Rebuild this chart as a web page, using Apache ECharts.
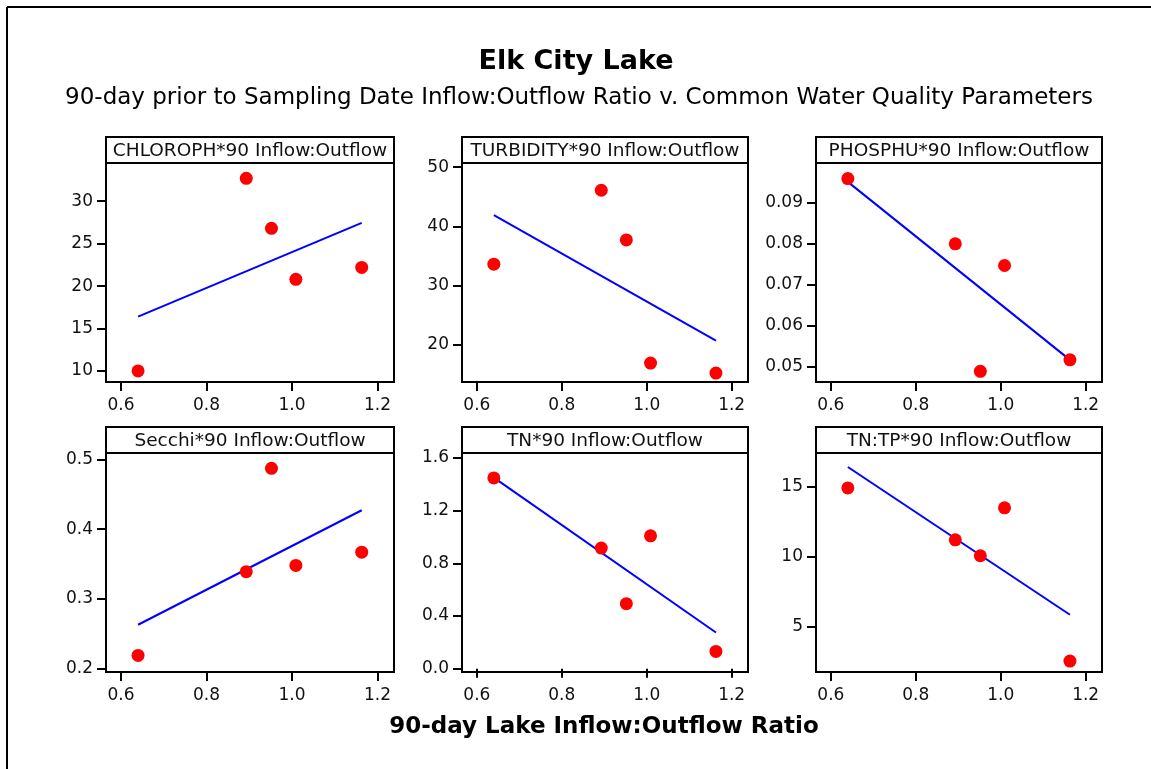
<!DOCTYPE html>
<html>
<head>
<meta charset="utf-8">
<script src="https://cdn.jsdelivr.net/npm/echarts@6/dist/echarts.min.js"></script>
<style>
html,body{margin:0;padding:0;background:#fff;}
#chart{width:1151px;height:769px;}
</style>
</head>
<body>
<div id="chart"></div>
<script>
// ---------- DATA ----------
const xValues = [0.64, 0.893, 0.952, 1.009, 1.163];
const xTicks = [0.6, 0.8, 1.0, 1.2];

const panelTitles = [
  'CHLOROPH*90 Inflow:Outflow',
  'TURBIDITY*90 Inflow:Outflow',
  'PHOSPHU*90 Inflow:Outflow',
  'Secchi*90 Inflow:Outflow',
  'TN*90 Inflow:Outflow',
  'TN:TP*90 Inflow:Outflow'
];

const chlorophyll = [10.0, 32.7, 26.8, 20.8, 22.2];
const turbidity   = [33.6, 46.1, 37.7, 16.9, 15.2];
const phosphorus  = [0.0959, 0.0800, 0.0489, 0.0747, 0.0517];
const secchi      = [0.219, 0.339, 0.487, 0.348, 0.367];
const tn          = [1.449, 0.916, 0.494, 1.009, 0.131];
const tntp        = [14.93, 11.21, 10.07, 13.50, 2.52];

// fitted line values at the smallest and largest ratio
const chlorophyllFit = [16.4, 27.45];
const turbidityFit   = [41.9, 20.7];
const phosphorusFit  = [0.0951, 0.0517];
const secchiFit      = [0.263, 0.427];
const tnFit          = [1.451, 0.275];
const tntpFit        = [16.43, 5.84];

const chlorophyllTicks = [10, 15, 20, 25, 30];
const turbidityTicks   = [20, 30, 40, 50];
const phosphorusTicks  = [0.05, 0.06, 0.07, 0.08, 0.09];
const secchiTicks      = [0.2, 0.3, 0.4, 0.5];
const tnTicks          = [0.0, 0.4, 0.8, 1.2, 1.6];
const tntpTicks        = [5, 10, 15];

// ---------- LAYOUT ----------
const panels = [
  {y: chlorophyll, fit: chlorophyllFit, ticks: chlorophyllTicks, min: 8.7, max: 34.5, dec: 0},
  {y: turbidity, fit: turbidityFit, ticks: turbidityTicks, min: 13.7, max: 50.7, dec: 0},
  {y: phosphorus, fit: phosphorusFit, ticks: phosphorusTicks, min: 0.0463, max: 0.0997, dec: 2},
  {y: secchi, fit: secchiFit, ticks: secchiTicks, min: 0.1953, max: 0.509, dec: 1},
  {y: tn, fit: tnFit, ticks: tnTicks, min: -0.025, max: 1.638, dec: 1},
  {y: tntp, fit: tntpFit, ticks: tntpTicks, min: 1.74, max: 17.43, dec: 0}
];
const colLeft = [106, 462, 816];
const colWidth = [288, 286, 286];
const rowTop = [163, 453];
const plotH = 219;
const headerH = 26;
const xMin = 0.565, xMax = 1.2385;

const tickFont = {fontFamily: 'DejaVu Sans', fontSize: 17, color: '#111'};

const grids = [], xAxes = [], yAxes = [], series = [], graphics = [];
const xLo = Math.min(...xValues), xHi = Math.max(...xValues);

panels.forEach((p, i) => {
  const c = i % 3, r = Math.floor(i / 3);
  grids.push({
    left: colLeft[c], top: rowTop[r], width: colWidth[c], height: plotH,
    show: true, borderColor: '#000', borderWidth: 2, backgroundColor: '#fff'
  });
  xAxes.push({
    type: 'value', gridIndex: i, min: xMin, max: xMax,
    axisLine: {show: false},
    axisTick: {show: true, inside: false, length: 9, lineStyle: {color: '#000', width: 2}, customValues: xTicks},
    axisLabel: Object.assign({margin: 15, customValues: xTicks, formatter: v => v.toFixed(1)}, tickFont),
    splitLine: {show: false}
  });
  yAxes.push({
    type: 'value', gridIndex: i, min: p.min, max: p.max,
    axisLine: {show: false},
    axisTick: {show: true, inside: false, length: 9, lineStyle: {color: '#000', width: 2}, customValues: p.ticks},
    axisLabel: Object.assign({margin: 13, customValues: p.ticks, formatter: v => v.toFixed(p.dec)}, tickFont),
    splitLine: {show: false}
  });
  series.push({
    type: 'line', xAxisIndex: i, yAxisIndex: i,
    data: [[xLo, p.fit[0]], [xHi, p.fit[1]]],
    symbol: 'none', lineStyle: {color: '#0000ff', width: 2}, z: 2, silent: true
  });
  series.push({
    type: 'scatter', xAxisIndex: i, yAxisIndex: i,
    data: xValues.map((x, k) => [x, p.y[k]]),
    symbol: 'circle', symbolSize: 13, itemStyle: {color: '#ff0000', opacity: 1}, z: 3
  });
  graphics.push({
    type: 'rect',
    shape: {x: colLeft[c], y: rowTop[r] - headerH, width: colWidth[c], height: headerH},
    style: {fill: '#fff', stroke: '#000', lineWidth: 2}
  });
  graphics.push({
    type: 'text',
    x: colLeft[c] + colWidth[c] / 2, y: rowTop[r] - headerH / 2 + 1,
    style: {text: panelTitles[i], fontFamily: 'DejaVu Sans', fontSize: 18.5, fill: '#111', align: 'center', verticalAlign: 'middle'}
  });
});

// outer frame (top and left edges)
graphics.push({type: 'line', shape: {x1: 7, y1: 7, x2: 1151, y2: 7}, style: {stroke: '#000', lineWidth: 2}});
graphics.push({type: 'line', shape: {x1: 7, y1: 7, x2: 7, y2: 769}, style: {stroke: '#000', lineWidth: 2}});

graphics.push({
  type: 'text', x: 576, y: 62,
  style: {text: 'Elk City Lake', fontFamily: 'DejaVu Sans', fontWeight: 'bold', fontSize: 27, fill: '#000', align: 'center', verticalAlign: 'middle'}
});
graphics.push({
  type: 'text', x: 579, y: 98,
  style: {text: '90-day prior to Sampling Date Inflow:Outflow Ratio v. Common Water Quality Parameters', fontFamily: 'DejaVu Sans', fontSize: 23, fill: '#000', align: 'center', verticalAlign: 'middle'}
});
graphics.push({
  type: 'text', x: 604, y: 727,
  style: {text: '90-day Lake Inflow:Outflow Ratio', fontFamily: 'DejaVu Sans', fontWeight: 'bold', fontSize: 23, fill: '#000', align: 'center', verticalAlign: 'middle'}
});

const chart = echarts.init(document.getElementById('chart'), null, {renderer: 'canvas'});
chart.setOption({
  animation: false,
  backgroundColor: '#fff',
  grid: grids,
  xAxis: xAxes,
  yAxis: yAxes,
  series: series,
  graphic: graphics
});
</script>
</body>
</html>
